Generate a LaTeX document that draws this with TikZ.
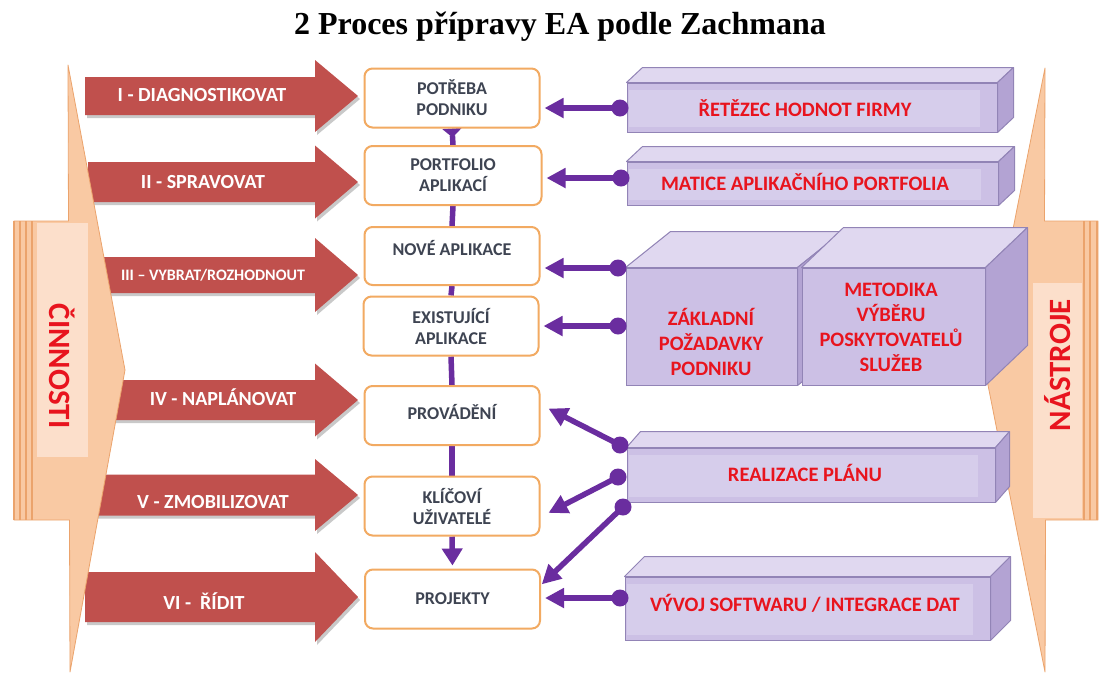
\documentclass[tikz,border=0pt]{standalone}
\usepackage{fontspec}
\setmainfont{Liberation Serif}
\newfontfamily\carl{Carlito}
\usetikzlibrary{arrows.meta,calc}

\pgfdeclarelayer{paper}
\pgfdeclarelayer{links}
\pgfsetlayers{paper,links,main}

\definecolor{arrred}{HTML}{C0504D}
\definecolor{arrshadow}{HTML}{C9C9C9}
\definecolor{peach}{HTML}{F9C9A3}
\definecolor{peachlight}{HTML}{FCDFCB}
\definecolor{peachline}{HTML}{EBA36C}
\definecolor{boxorange}{HTML}{F2AA62}
\definecolor{boxtext}{HTML}{3E4452}
\definecolor{conn}{HTML}{6A2D9F}
\definecolor{pfront}{HTML}{CCC0E5}
\definecolor{pinner}{HTML}{D6CDEB}
\definecolor{ptop}{HTML}{E0D8F0}
\definecolor{pside}{HTML}{B3A3D3}
\definecolor{pedge}{HTML}{9284B6}
\definecolor{labelred}{HTML}{E8141E}

% red activity arrow: left x, centre y, half body height, half head height
\newcommand\redarrow[4]{%
  \fill[arrshadow] (#1+2,#2-#3+3) -- (317,#2-#3+3) -- (317,#2-#4+3) -- (360,#2+3)
    -- (317,#2+#4+3) -- (317,#2+#3+3) -- (#1+2,#2+#3+3) -- cycle;
  \fill[arrred] (#1,#2-#3) -- (315,#2-#3) -- (315,#2-#4) -- (358,#2)
    -- (315,#2+#4) -- (315,#2+#3) -- (#1,#2+#3) -- cycle;}

% top and side faces of a block whose front face is node #1, depth (#2 right, #3 up)
\newcommand\cuboid[3]{%
  \path[topface] (#1.north west) -- ++(#2,-#3) -- ([shift={(#2pt,#3pt)}]#1.north east)
    -- (#1.north east) -- cycle;
  \path[sideface] (#1.north east) -- ([shift={(#2pt,#3pt)}]#1.north east)
    -- ([shift={(#2pt,#3pt)}]#1.south east) -- (#1.south east) -- cycle;}

\begin{document}
\begin{tikzpicture}[x=1pt,y=-1pt,
  stepbox/.style={rectangle, rounded corners=8pt, draw=boxorange, line width=2pt,
    fill=white, minimum width=175pt, minimum height=59pt, align=center,
    text=boxtext, font=\carl\bfseries\fontsize{18}{21}\selectfont, inner sep=0pt},
  arrlabel/.style={text=white, font=\carl\bfseries\fontsize{20}{24}\selectfont, inner sep=0pt},
  sidelabel/.style={text=labelred, font=\carl\bfseries\fontsize{31}{36}\selectfont, inner sep=0pt},
  front/.style={rectangle, draw=pedge, line width=1pt, fill=pfront, inner sep=0pt},
  panel/.style={path picture={\fill[pinner]
      ([shift={(2pt,-7pt)}]path picture bounding box.north west) rectangle
      ([shift={(-17pt,5pt)}]path picture bounding box.south east);}},
  ptext/.style={text=labelred, align=center, inner sep=0pt,
    font=\carl\bfseries\fontsize{20.5}{25}\selectfont},
  topface/.style={draw=pedge, line width=1pt, fill=ptop, line join=round},
  sideface/.style={draw=pedge, line width=1pt, fill=pside, line join=round},
  link/.style={draw=conn, line width=5.5pt},
  linkarrow/.style={link, -{Triangle[length=19pt,width=19pt]}, shorten >=4pt},
]
\useasboundingbox (0,0) rectangle (1100,673);
\begin{pgfonlayer}{paper}
  \fill[white] (0,0) rectangle (1100,673);
\end{pgfonlayer}

\node[font=\bfseries\fontsize{32}{38}\selectfont, inner sep=0pt] (title) at (560,27)
  {2 Proces přípravy EA podle Zachmana};

% activity arrows
\redarrow{85}{96}{19}{36}
\redarrow{88}{182}{20}{36.5}
\redarrow{88}{275}{18}{37}
\redarrow{88}{400}{20}{36.5}
\redarrow{88}{495}{20.5}{36}
\redarrow{85}{597}{25}{45}

% left bracket: activities
\path[fill=peach, draw=peachline, line width=0.8pt, line join=round]
  (68,65) -- (125,370) -- (70,672) -- (69.5,520) -- (14,520) -- (14,221) -- (68.5,221) -- cycle;
\fill[peachlight] (37,223) rectangle (88,457);
\foreach \sx in {14,20,26,32}
  \draw[peachline, line width=1.3pt] (\sx,221) -- (\sx,520);
\node[sidelabel, rotate=-90] (cin) at (62,366) {ČINNOSTI};

% right bracket: tools
\path[fill=peach, draw=peachline, line width=0.8pt, line join=round]
  (1045,68) -- (985,370) -- (1045,672) -- (1045.5,520) -- (1098,520) -- (1098,221) -- (1044.5,221) -- cycle;
\fill[peachlight] (1033,283) rectangle (1082,518);
\foreach \sx in {1084,1090,1097}
  \draw[peachline, line width=1.3pt] (\sx,221) -- (\sx,520);
\node[sidelabel, rotate=90] (nas) at (1058,365) {NÁSTROJE};

\node[arrlabel] (a1) at (202,95) {I - DIAGNOSTIKOVAT};
\node[arrlabel] (a2) at (203,182) {II - SPRAVOVAT};
\node[arrlabel, font=\carl\bfseries\fontsize{16}{20}\selectfont] (a3) at (213,275) {III – VYBRAT/ROZHODNOUT};
\node[arrlabel] (a4) at (223,397) {IV - NAPLÁNOVAT};
\node[arrlabel] (a5) at (213,502) {V - ZMOBILIZOVAT};
\node[arrlabel] (a6) at (204,601) {VI - \ ŘÍDIT};

% process steps
\node[stepbox] (P1) at (452,98) {POTŘEBA\\PODNIKU};
\node[stepbox, minimum width=177pt] (P2) at (453,175.5) {PORTFOLIO\\APLIKACÍ};
\node[stepbox, minimum height=58pt, text depth=16pt] (P3) at (452,256) {NOVÉ APLIKACE};
\node[stepbox] (P4) at (451,326) {EXISTUJÍCÍ\\APLIKACE};
\node[stepbox, text depth=7pt] (P5) at (452,415.5) {PROVÁDĚNÍ};
\node[stepbox] (P6) at (452,506) {KLÍČOVÍ\\UŽIVATELÉ};
\node[stepbox] (P7) at (452.5,599) {PROJEKTY};

% flow between steps, kept behind the boxes
\begin{pgfonlayer}{links}
  \draw[link, {Triangle[reversed,length=9pt,width=19pt]}-] (P1.south) -- (P2.north);
  \draw[link] (P2.south) -- (P3.north);
  \draw[link] (P3.south) -- (P4.north);
  \draw[link] (P4.south) -- (P5.north);
  \draw[link] (P5.south) -- (P6.north);
  \draw[link, -{Triangle[length=17pt,width=20pt]}, shorten >=3pt] (P6.south) -- (P7.north);
\end{pgfonlayer}

% tool blocks
\node[front, panel, minimum width=370pt, minimum height=49pt] (R1) at (812,107.5) {};
\cuboid{R1}{16}{15}
\node[ptext] (R1t) at (805,108) {ŘETĚZEC HODNOT FIRMY};

\node[front, panel, minimum width=371pt, minimum height=43pt] (R2) at (812.5,183.5) {};
\cuboid{R2}{16}{15}
\node[ptext] (R2t) at (805,182) {MATICE APLIKAČNÍHO PORTFOLIA};

\node[front, minimum width=171pt, minimum height=117pt] (R3) at (711.5,326.5) {};
\cuboid{R3}{45}{36}
\node[ptext] (R3t) at (711,342) {ZÁKLADNÍ\\POŽADAVKY\\PODNIKU};

\node[front, minimum width=183pt, minimum height=117pt] (R4) at (893.5,326.5) {};
\cuboid{R4}{42}{40}
\node[ptext] (R4t) at (891,327) {METODIKA\\VÝBĚRU\\POSKYTOVATELŮ\\SLUŽEB};

\node[front, panel, minimum width=368pt, minimum height=54pt] (R5) at (811,475) {};
\cuboid{R5}{14}{16}
\node[ptext] (R5t) at (805,473) {REALIZACE PLÁNU};

\node[front, panel, minimum width=365pt, minimum height=63pt] (R6) at (807.5,608.5) {};
\cuboid{R6}{20}{20}
\node[ptext] (R6t) at (805,603) {VÝVOJ SOFTWARU / INTEGRACE DAT};

% tool links
\coordinate (d1) at (620,108);
\coordinate (d2) at (621,178);
\coordinate (d3) at (618,268);
\coordinate (d4) at (618,326);
\coordinate (d5) at (620,445);
\coordinate (d6) at (618,477);
\coordinate (d7) at (623,507);
\coordinate (d8) at (620,598);

\draw[linkarrow] (d1) -- (d1 -| P1.east);
\draw[linkarrow] (d2) -- (d2 -| P2.east);
\draw[linkarrow] (d3) -- (d3 -| P3.east);
\draw[linkarrow] (d4) -- (d4 -| P4.east);
\draw[linkarrow, shorten >=9pt] (d5) -- ([yshift=11pt]P5.east);
\draw[linkarrow, shorten >=9pt] (d6) -- ([yshift=-11pt]P6.east);
\draw[linkarrow, shorten >=1pt] (d7) -- ([yshift=14pt]P7.east);
\draw[linkarrow] (d8) -- (d8 -| P7.east);
\foreach \d in {d1,d2,d3,d4,d5,d6,d7,d8}
  \fill[conn] (\d) circle[radius=8.5pt];
\end{tikzpicture}
\end{document}
